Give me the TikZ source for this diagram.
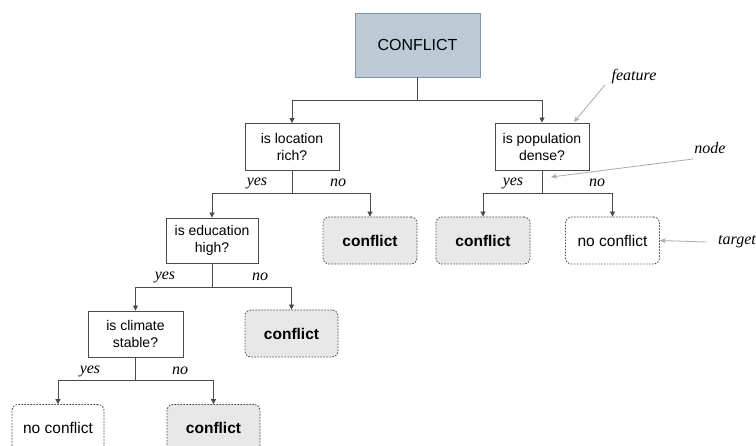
\documentclass[tikz,border=0pt]{standalone}
\usepackage{fontspec}
\setmainfont{Liberation Sans}
\newfontfamily\labelfont{Liberation Serif}
\usetikzlibrary{arrows.meta}
\definecolor{rootfill}{HTML}{BCCAD6}
\definecolor{rootdraw}{HTML}{7E93A6}
\definecolor{leaffill}{HTML}{E8E8E8}
\definecolor{linecol}{HTML}{4A4A4A}
\definecolor{notecol}{HTML}{AAAAAA}
\tikzset{
  rootbox/.style={draw=rootdraw, fill=rootfill, line width=0.9pt, inner sep=0pt,
    minimum width=125pt, minimum height=64pt, font=\fontsize{16}{18}\selectfont},
  questionbox/.style={draw=linecol, fill=white, line width=0.9pt, inner sep=0pt,
    minimum width=94pt, minimum height=47pt, align=center,
    font=\fontsize{14}{17}\selectfont},
  leafbox/.style={draw=linecol, dash pattern=on 1.6pt off 1.4pt, rounded corners=6pt,
    line width=0.8pt, inner sep=0pt, minimum width=94pt, minimum height=47pt,
    font=\fontsize{15.5}{18}\selectfont},
  hitbox/.style={leafbox, fill=leaffill, font=\fontsize{15.5}{18}\selectfont\bfseries},
  missbox/.style={leafbox, fill=white},
  branch/.style={draw=linecol, line width=0.8pt, -{Triangle[length=5pt,width=5pt]}},
  answer/.style={font=\labelfont\itshape\fontsize{16}{18}\selectfont, inner sep=0pt},
  notearrow/.style={draw=notecol, line width=0.8pt, -{Stealth[length=6pt,width=5pt]}},
}
\begin{document}
\begin{tikzpicture}[x=1pt,y=-1pt]
\clip (0,0) rectangle (756,446);
\fill[white] (0,0) rectangle (756,446);

% decision nodes
\node[rootbox] (root) at (417.5,45) {CONFLICT};
\node[questionbox] (loc) at (292,147) {is location\\rich?};
\node[questionbox] (pop) at (542,146.5) {is population\\dense?};
\node[questionbox, minimum width=92pt, minimum height=45pt] (edu) at (212,240.5) {is education\\high?};
\node[questionbox, minimum width=95pt, minimum height=46pt] (cli) at (135.5,334) {is climate\\stable?};

% outcomes
\node[hitbox] (locno) at (370,240.5) {conflict};
\node[hitbox] (popyes) at (483,240.5) {conflict};
\node[missbox] (popno) at (612.5,240.5) {no conflict};
\node[hitbox, minimum width=93pt] (eduno) at (291.5,333.5) {conflict};
\node[missbox, minimum width=92pt] (cliyes) at (58,428) {no conflict};
\node[hitbox, minimum width=93pt] (clino) at (213.5,428) {conflict};

% splits
\coordinate (rootsplit) at (417.5,100);
\coordinate (locsplit) at (292,193);
\coordinate (popsplit) at (542,193);
\coordinate (edusplit) at (212,287);
\coordinate (clisplit) at (135.5,380);

\draw[draw=linecol, line width=0.8pt] (root.south) -- (rootsplit);
\draw[branch] (rootsplit) -| (loc.north);
\draw[branch] (rootsplit) -| (pop.north);

\draw[draw=linecol, line width=0.8pt] (loc.south) -- (locsplit);
\draw[branch] (locsplit) -| (edu.north);
\draw[branch] (locsplit) -| (locno.north);

\draw[draw=linecol, line width=0.8pt] (pop.south) -- (popsplit);
\draw[branch] (popsplit) -| (popyes.north);
\draw[branch] (popsplit) -| (popno.north);

\draw[draw=linecol, line width=0.8pt] (edu.south) -- (edusplit);
\draw[branch] (edusplit) -| (cli.north);
\draw[branch] (edusplit) -| (eduno.north);

\draw[draw=linecol, line width=0.8pt] (cli.south) -- (clisplit);
\draw[branch] (clisplit) -| (cliyes.north);
\draw[branch] (clisplit) -| (clino.north);

% answers on the branches
\node[answer] (locy) at (257,183) {yes};
\node[answer] (locn) at (338,183) {no};
\node[answer] (popy) at (513,183) {yes};
\node[answer] (popn) at (597,183) {no};
\node[answer] (eduy) at (165,277) {yes};
\node[answer] (edun) at (260,277) {no};
\node[answer] (cliy) at (90,371) {yes};
\node[answer] (clin) at (180,371) {no};

% annotations
\node[answer] (feature) at (634,77) {feature};
\node[answer] (nodelbl) at (710,148) {node};
\node[answer, anchor=west] (target) at (718,242) {target};
\coordinate (featuretip) at (574,122);
\coordinate (nodetip) at (551,177);
\draw[notearrow] (605,85) -- (featuretip);
\draw[notearrow] (693,159) -- (nodetip);
\draw[notearrow] (707,242) -- (popno.east);
\end{tikzpicture}
\end{document}
